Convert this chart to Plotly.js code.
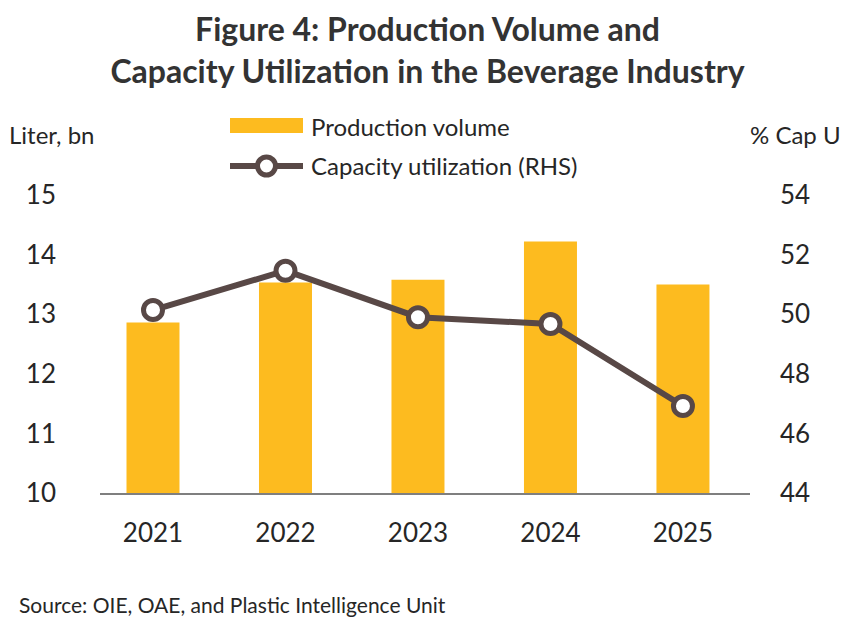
<!DOCTYPE html>
<html>
<head>
<meta charset="utf-8">
<script src="https://cdn.plot.ly/plotly-3.0.1.min.js"></script>
<style>html,body{margin:0;padding:0;background:#fff;}#chart{width:855px;height:635px;}</style>
</head>
<body>
<div id="chart"></div>
<script>
const years = ["2021", "2022", "2023", "2024", "2025"];
const productionVolume = [12.86, 13.53, 13.58, 14.22, 13.50];
const capacityUtilization = [50.14, 51.46, 49.9, 49.67, 46.92];
const leftTicks = [10, 11, 12, 13, 14, 15];
const rightTicks = [44, 46, 48, 50, 52, 54];

const FONT = "Lato, 'Open Sans', sans-serif";
const TXT = "#262626";
const BAR = "#FDBB1F";
const LINE = "#584846";

// plot area in pixels: left 100, right 750, top 195, bottom 493
const PL = 100, PW = 650, PB = 493, PH = 298;
const px = v => (v - PL) / PW;
const py = v => (PB - v) / PH;

const traces = [
  {
    type: "bar", x: years, y: productionVolume, name: "Production volume",
    marker: {color: BAR}, width: 0.4, yaxis: "y"
  },
  {
    type: "scatter", mode: "lines+markers", x: years, y: capacityUtilization,
    name: "Capacity utilization (RHS)", yaxis: "y2",
    line: {color: LINE, width: 6},
    marker: {size: 19, color: "#ffffff", line: {color: LINE, width: 5}}
  }
];

const layout = {
  width: 855, height: 635,
  margin: {l: 100, r: 105, t: 195, b: 142},
  paper_bgcolor: "#fff", plot_bgcolor: "#fff",
  showlegend: false,
  font: {family: FONT, color: TXT},
  title: {
    text: "<b>Figure 4: Production Volume and<br>Capacity Utilization in the Beverage Industry</b>",
    x: 0.5, xanchor: "center", y: 1 - 41 / 635, yanchor: "top",
    font: {family: FONT, size: 32, color: "#333333"}
  },
  xaxis: {
    type: "category", range: [-0.4, 4.506],
    showline: true, linecolor: "#7f7f7f", linewidth: 1.5,
    ticks: "", showgrid: false, zeroline: false,
    tickfont: {size: 26, color: TXT}, ticklabelstandoff: 16
  },
  yaxis: {
    range: [10, 15], tickvals: leftTicks, ticktext: leftTicks.map(String),
    showgrid: false, zeroline: false, showline: false, ticks: "",
    tickfont: {size: 26, color: TXT}, ticklabelstandoff: 43
  },
  yaxis2: {
    overlaying: "y", side: "right",
    range: [44, 54], tickvals: rightTicks, ticktext: rightTicks.map(String),
    showgrid: false, zeroline: false, showline: false, ticks: "",
    tickfont: {size: 26, color: TXT}, ticklabelstandoff: 29
  },
  shapes: [
    {type: "rect", xref: "paper", yref: "paper", x0: px(230), x1: px(303), y0: py(118), y1: py(133),
     fillcolor: BAR, line: {width: 0}},
    {type: "line", xref: "paper", yref: "paper", x0: px(230), x1: px(303), y0: py(166), y1: py(166),
     line: {color: LINE, width: 6}},
    {type: "circle", xref: "paper", yref: "paper", x0: px(266.5 - 9), x1: px(266.5 + 9), y0: py(166 + 9), y1: py(166 - 9),
     fillcolor: "#ffffff", line: {color: LINE, width: 5}}
  ],
  annotations: [
    {xref: "paper", yref: "paper", x: px(309), y: py(126), xanchor: "left", yanchor: "middle",
     text: "Production volume", showarrow: false, font: {size: 24, color: TXT}},
    {xref: "paper", yref: "paper", x: px(309), y: py(165), xanchor: "left", yanchor: "middle",
     text: "Capacity utilization (RHS)", showarrow: false, font: {size: 24, color: TXT}},
    {xref: "paper", yref: "paper", x: px(7), y: py(134), xanchor: "left", yanchor: "middle",
     text: "Liter, bn", showarrow: false, font: {size: 24, color: TXT}},
    {xref: "paper", yref: "paper", x: px(843), y: py(134), xanchor: "right", yanchor: "middle",
     text: "% Cap U", showarrow: false, font: {size: 24, color: TXT}},
    {xref: "paper", yref: "paper", x: px(17), y: py(604), xanchor: "left", yanchor: "middle",
     text: "Source: OIE, OAE, and Plastic Intelligence Unit", showarrow: false, font: {size: 21, color: TXT}}
  ]
};

Plotly.newPlot("chart", traces, layout, {displayModeBar: false, staticPlot: true});
</script>
</body>
</html>
